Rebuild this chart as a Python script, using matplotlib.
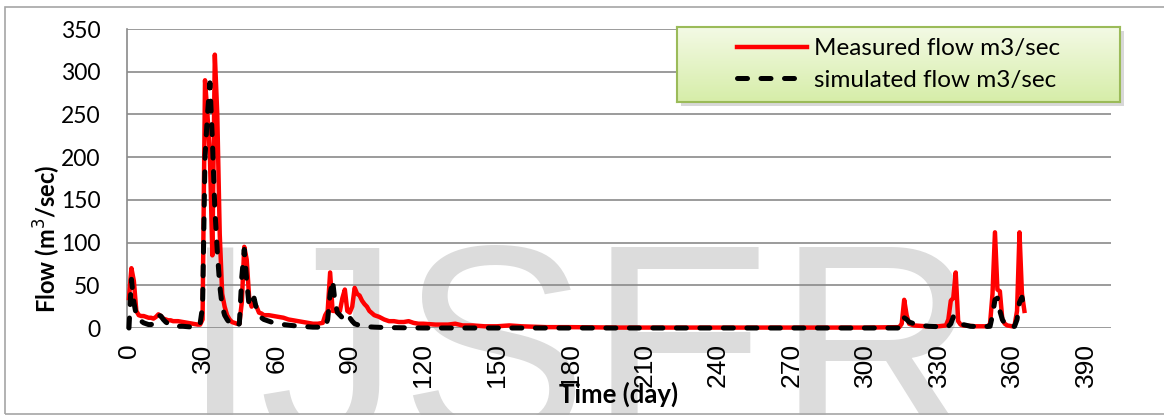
"""Measured vs simulated daily river flow over one year."""

import numpy as np
import matplotlib
matplotlib.use('Agg')
import matplotlib.pyplot as plt
from matplotlib.patches import Rectangle

# Measured flow (m3/sec), day -> value
measured_days = [0, 1, 2, 3, 4, 5, 6, 7, 8, 9, 10, 11, 12, 13, 14, 15, 16, 17, 18,
                 19, 20, 22, 24, 26, 28, 29, 30, 31, 32, 33, 34, 35, 36, 37, 38,
                 39, 40, 41, 42, 43, 44, 45, 46, 47, 48, 49, 50, 51, 52, 53, 54,
                 55, 57, 59, 61, 63, 65, 67, 69, 71, 73, 75, 77, 79, 80, 81, 82,
                 83, 84, 85, 86, 87, 88, 89, 90, 91, 92, 93, 94, 95, 96, 97, 98,
                 100, 102, 104, 106, 108, 110, 112, 114, 116, 118, 120, 125, 130,
                 133, 136, 140, 145, 150, 155, 160, 170, 180, 200, 250, 300, 314,
                 315, 316, 317, 318, 320, 325, 330, 333, 334, 335, 336, 337, 338,
                 339, 340, 345, 350, 351, 352, 353, 354, 355, 356, 357, 358, 360,
                 361, 362, 363, 364, 365]
measured_flow = [35, 70, 55, 20, 15, 14, 14, 13, 12, 12, 11, 13, 16, 14, 11, 10, 9,
                 9, 8, 8, 8, 7, 6, 5, 4, 4, 10, 290, 250, 200, 85, 320, 250, 110,
                 40, 25, 15, 10, 7, 6, 5, 5, 30, 95, 80, 35, 25, 30, 25, 18, 17,
                 15, 15, 14, 13, 12, 10, 9, 8, 7, 6, 5, 5, 6, 15, 20, 65, 20, 20,
                 18, 20, 35, 45, 20, 18, 25, 47, 40, 38, 32, 28, 25, 20, 15, 13,
                 10, 8, 8, 7, 7, 8, 6, 5, 5, 4, 4, 5, 3, 3, 2, 2, 3, 2, 1, 1, 0.5,
                 0.5, 0.5, 1, 5, 33, 15, 5, 3, 2, 2, 3, 10, 32, 35, 65, 8, 4, 3, 2,
                 2, 5, 40, 112, 45, 43, 10, 5, 3, 2, 3, 20, 112, 40, 20]

# Simulated flow (m3/sec), day -> value
simulated_days = [0, 1, 2, 3, 4, 5, 6, 7, 8, 9, 10, 11, 12, 13, 14, 15, 16, 17, 18,
                  20, 22, 24, 26, 28, 29, 30, 31, 32, 33, 34, 35, 36, 37, 38, 39,
                  40, 41, 42, 43, 44, 45, 46, 47, 48, 49, 50, 51, 52, 53, 54, 55,
                  57, 59, 61, 63, 66, 70, 75, 80, 81, 82, 83, 84, 85, 86, 87, 88,
                  89, 90, 91, 92, 94, 97, 100, 105, 120, 314, 315, 316, 317, 318,
                  320, 323, 326, 330, 334, 335, 336, 337, 338, 340, 343, 348, 351,
                  352, 353, 354, 355, 356, 357, 358, 360, 361, 362, 363, 364, 365]
simulated_flow = [0, 57, 30, 15, 10, 8, 6, 5, 4, 4, 5, 10, 15, 14, 10, 7, 5, 4, 3,
                  2, 2, 1.5, 1, 1, 5, 25, 200, 250, 287, 220, 140, 90, 50, 25, 15,
                  10, 6, 4, 3, 2, 5, 60, 92, 55, 25, 30, 35, 22, 15, 12, 10, 8, 6,
                  5, 4, 3, 2, 1, 1, 10, 40, 56, 30, 18, 15, 12, 10, 15, 12, 8, 5,
                  3, 1.5, 1, 0.5, 0, 0, 2, 12, 10, 7, 5, 3, 2, 1.5, 2, 5, 13, 10,
                  6, 4, 2, 1.5, 2, 15, 33, 35, 20, 10, 5, 2, 1, 2, 10, 30, 36, 22]

x_ticks = np.arange(0, 391, 30)
y_ticks = np.arange(0, 351, 50)

W, H = 1164, 415
fig = plt.figure(figsize=(W / 100, H / 100), dpi=100)

# watermark behind the chart
fig.text(181 / W, (H - 442) / H, 'IJSER', fontsize=203, family='Liberation Sans',
         color='#dcdcdc', ha='left', va='baseline', zorder=-5)

# chart area border
fig.patches.append(Rectangle((5 / W, 1 / H), 1.2, (414 - 7) / H,
                             transform=fig.transFigure, fill=False,
                             edgecolor='#a6a6a6', linewidth=1.2, zorder=-4))

ax = fig.add_axes([127 / W, (H - 328) / H, (1111 - 127) / W, (328 - 29) / H])
ax.set_facecolor('none')

meas_line, = ax.plot(measured_days, measured_flow, color='#ff0000', linewidth=3.2,
                     solid_joinstyle='round', clip_on=False, zorder=3,
                     label='Measured flow m3/sec')
sim_line, = ax.plot(simulated_days, simulated_flow, color='black', linewidth=3.6,
                    linestyle=(0, (2, 2.7)), dash_capstyle='round',
                    clip_on=False, zorder=4, label='simulated flow m3/sec')

ax.set_xlim(-0.8, 400.3)
ax.set_ylim(0, 350)
ax.set_xticks(x_ticks)
ax.set_yticks(y_ticks)
ax.tick_params(axis='both', length=0)
ax.tick_params(axis='x', pad=11, labelrotation=90, labelsize=19)
ax.tick_params(axis='y', pad=19, labelsize=16.5)
for lbl in ax.get_xticklabels():
    lbl.set_family('Liberation Sans')
for lbl in ax.get_yticklabels():
    lbl.set_family('Lato')

ax.grid(True, axis='y', color='#8a8a8a', linewidth=1.2)
ax.set_axisbelow(True)
for side in ['top', 'right', 'bottom']:
    ax.spines[side].set_visible(False)
ax.spines['left'].set_color('#8a8a8a')
ax.spines['left'].set_linewidth(1.2)

fig.text(47 / W, (H - 239) / H, 'Flow (m$^3$/sec)', rotation=90, fontsize=17,
         fontweight='bold', family='Lato', ha='center', va='center')
fig.text(619 / W, (H - 394) / H, 'Time (day)', fontsize=18.5, fontweight='bold',
         family='Lato', ha='center', va='center', zorder=5)

# legend box with gradient fill and soft shadow
lx0, ly0, lx1, ly1 = 677, 27, 1120, 102
fig.patches.append(Rectangle(((lx0 + 4) / W, (H - ly1 - 4) / H), (lx1 - lx0) / W,
                             (ly1 - ly0) / H, transform=fig.transFigure,
                             facecolor='#909090', alpha=0.35, edgecolor='none',
                             zorder=-3))
lax = fig.add_axes([lx0 / W, (H - ly1) / H, (lx1 - lx0) / W, (ly1 - ly0) / H])
lax.set_zorder(5)
grad = np.linspace(0, 1, 100).reshape(-1, 1)
top_c = np.array([0.955, 0.98, 0.90])
bot_c = np.array([0.84, 0.93, 0.66])
lax.imshow(top_c + grad[..., None] * (bot_c - top_c), aspect='auto',
           extent=[0, 1, 0, 1])
lax.set_xticks([])
lax.set_yticks([])
for sp in lax.spines.values():
    sp.set_color('#9bbb59')
    sp.set_linewidth(1.5)
lax.legend([meas_line, sim_line], ['Measured flow m3/sec', 'simulated flow m3/sec'],
           loc='center', frameon=False, prop={'family': 'Lato', 'size': 17.5},
           handlelength=2.9, handletextpad=0.3, labelspacing=0.45,
           borderaxespad=0, bbox_to_anchor=(0.5, 0.5))

fig.savefig('out.png', dpi=100)
